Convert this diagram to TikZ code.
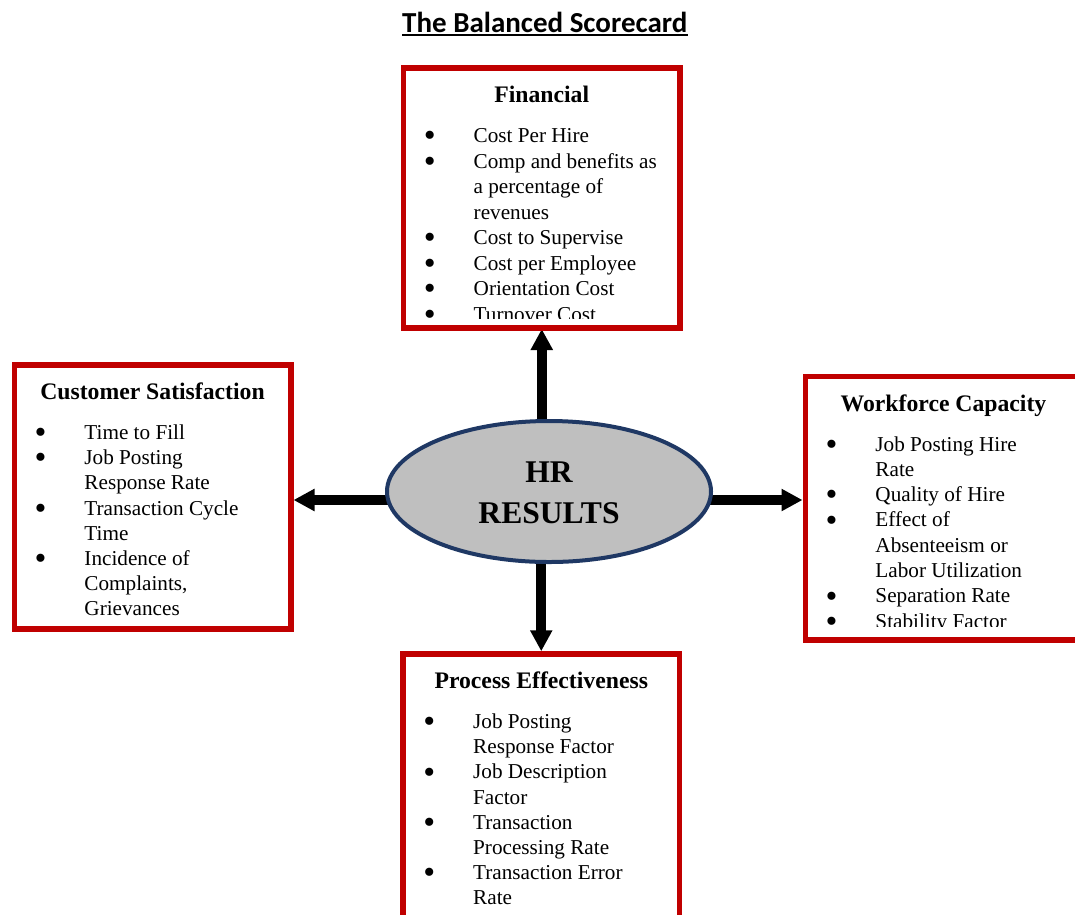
\documentclass[tikz,border=0pt]{standalone}
\usepackage{fontspec}
\setmainfont{Liberation Serif}
\newfontfamily\headfont{Carlito}
\usetikzlibrary{arrows.meta,backgrounds,shapes.geometric}
\definecolor{boxred}{RGB}{192,0,0}
\definecolor{rimblue}{RGB}{31,56,100}
\definecolor{hubgray}{RGB}{191,191,191}
\newcommand\bdot{\makebox[0pt]{\smash{\raisebox{-4.2pt}{\scalebox{1.6}{\textbullet}}}}}
\newenvironment{metrics}{\begin{tabular}[t]{@{}l@{\hspace{44pt}}l@{}}}{\end{tabular}}

\begin{document}
\begin{tikzpicture}[x=1pt,y=-1pt,
  card/.style={draw=boxred, line width=5.5pt, minimum width=276.5pt,
    minimum height=262pt, inner sep=0pt, outer sep=0pt},
  cardhead/.style={anchor=base, inner sep=0pt,
    font=\fontsize{23.7}{28}\selectfont\bfseries},
  cardlist/.style={anchor=base west, inner sep=0pt,
    font=\fontsize{21.2}{25.2}\selectfont},
  hubtext/.style={anchor=base, inner sep=0pt,
    font=\fontsize{31.6}{41}\selectfont\bfseries},
  link/.style={line width=10pt, -{Triangle[length=21pt,width=21pt]}}]

\useasboundingbox (0,0) rectangle (1075,914);
\clip (0,0) rectangle (1075,914);

% title
\node[anchor=base, inner sep=0pt,
  font=\headfont\fontsize{29}{34}\selectfont\bfseries] (title) at (544.8,32)
  {The Balanced Scorecard};
\draw[line width=2.4pt] ([yshift=-3pt]title.base west) -- ([yshift=-3pt]title.base east);

% the four perspective cards
\node[card, minimum height=260pt]   (fin) at (541.75,198) {};
\node[card, minimum height=264pt]   (cus) at (152.5,497) {};
\node[card, minimum height=263.5pt] (wfc) at (943.5,508.25) {};
\node[card, minimum height=264pt]   (pro) at (541.25,786) {};

% Financial
\begin{scope}
  \clip ([xshift=3pt,yshift=-3pt]fin.north west) rectangle ([xshift=-3pt,yshift=10pt]fin.south east);
  \node[cardhead] (finh) at ([yshift=-34.5pt]fin.north) {Financial};
  \node[cardlist, font=\fontsize{21.2}{25.5}\selectfont] (finl)
    at ([xshift=26pt,yshift=-74.5pt]fin.north west) {\begin{metrics}
    \bdot & Cost Per Hire\\
    \bdot & Comp and benefits as\\
          & a percentage of\\
          & revenues\\
    \bdot & Cost to Supervise\\
    \bdot & Cost per Employee\\
    \bdot & Orientation Cost\\
    \bdot & Turnover Cost
  \end{metrics}};
\end{scope}

% Customer Satisfaction
\node[cardhead] (cush) at ([yshift=-34.5pt]cus.north) {Customer Satisfaction};
\node[cardlist] (cusl) at ([xshift=26pt,yshift=-74.5pt]cus.north west) {\begin{metrics}
  \bdot & Time to Fill\\
  \bdot & Job Posting\\
        & Response Rate\\
  \bdot & Transaction Cycle\\
        & Time\\
  \bdot & Incidence of\\
        & Complaints,\\
        & Grievances
\end{metrics}};

% Workforce Capacity
\begin{scope}
  \clip ([xshift=3pt,yshift=-3pt]wfc.north west) rectangle ([xshift=-3pt,yshift=14pt]wfc.south east);
  \node[cardhead] (wfch) at ([yshift=-34.5pt]wfc.north) {Workforce Capacity};
  \node[cardlist, font=\fontsize{21.2}{25.3}\selectfont] (wfcl)
    at ([xshift=26pt,yshift=-74.5pt]wfc.north west) {\begin{metrics}
    \bdot & Job Posting Hire\\
          & Rate\\
    \bdot & Quality of Hire\\
    \bdot & Effect of\\
          & Absenteeism or\\
          & Labor Utilization\\
    \bdot & Separation Rate\\
    \bdot & Stability Factor
  \end{metrics}};
\end{scope}

% Process Effectiveness
\node[cardhead] (proh) at ([yshift=-34.5pt]pro.north) {Process Effectiveness};
\node[cardlist] (prol) at ([xshift=26pt,yshift=-74.5pt]pro.north west) {\begin{metrics}
  \bdot & Job Posting\\
        & Response Factor\\
  \bdot & Job Description\\
        & Factor\\
  \bdot & Transaction\\
        & Processing Rate\\
  \bdot & Transaction Error\\
        & Rate
\end{metrics}};

% central hub
\node[ellipse, draw=rimblue, fill=hubgray, line width=4pt, inner sep=0pt,
  minimum width=324pt, minimum height=141pt] (hr) at (549,491.5) {};
\node[hubtext] (hrtop) at ([yshift=9.5pt]hr.center) {HR};
\node[hubtext] (hrbot) at ([yshift=-31.5pt]hr.center) {RESULTS};

% connectors, running out from under the hub
\coordinate (hline) at (549,500);
\begin{scope}[on background layer]
  \draw[link] (fin.south |- hr.center) -- ([yshift=-1pt]fin.south);
  \draw[link] (pro.north |- hr.center) -- ([yshift=2.75pt]pro.north);
  \draw[link] (hr.center |- hline) -- ([xshift=2.75pt]cus.east |- hline);
  \draw[link] (hr.center |- hline) -- ([xshift=-2.75pt]wfc.west |- hline);
\end{scope}
\end{tikzpicture}
\end{document}
